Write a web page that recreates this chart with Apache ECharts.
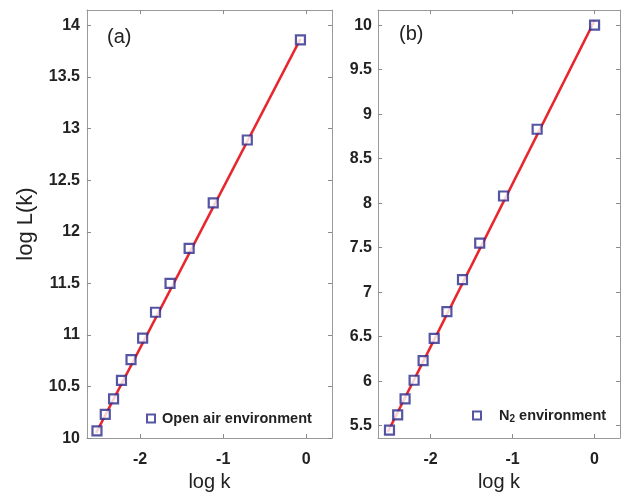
<!DOCTYPE html>
<html>
<head>
<meta charset="utf-8">
<script src="https://cdn.jsdelivr.net/npm/echarts@6/dist/echarts.min.js"></script>
<style>
  html, body { margin: 0; padding: 0; background: #fff; }
  #main { width: 622px; height: 497px; }
</style>
</head>
<body>
<div id="main"></div>
<script>
// panel (a): open air
var logkA = [-2.52, -2.42, -2.32, -2.225, -2.11, -1.97, -1.815, -1.64, -1.41, -1.12, -0.71, -0.07];
var logLA = [10.07, 10.23, 10.38, 10.56, 10.76, 10.97, 11.22, 11.50, 11.84, 12.28, 12.89, 13.86];
var fitA = [[-2.53, 10.05], [-0.07, 13.87]];

// panel (b): N2
var logkB = [-2.50, -2.40, -2.31, -2.20, -2.09, -1.955, -1.80, -1.61, -1.40, -1.11, -0.70, 0.00];
var logLB = [5.45, 5.62, 5.80, 6.01, 6.23, 6.48, 6.78, 7.14, 7.55, 8.08, 8.83, 10.00];
var fitB = [[-2.52, 5.43], [0.00, 10.05]];

var xTicks = [-2, -1, 0];
var yTicksA = [10, 10.5, 11, 11.5, 12, 12.5, 13, 13.5, 14];
var yTicksB = [5.5, 6, 6.5, 7, 7.5, 8, 8.5, 9, 9.5, 10];

var navy = '#2a2a8c';
var red = '#e8262d';
var font = 'Liberation Sans, Arial, sans-serif';

function pairs(xs, ys) {
    var out = [];
    for (var i = 0; i < xs.length; i++) out.push([xs[i], ys[i]]);
    return out;
}

function xAx(grid, show, ticks) {
    return {
        type: 'value', gridIndex: grid, min: -2.64, max: 0.31,
        position: show ? 'bottom' : 'top',
        splitLine: {show: false},
        axisLine: {onZero: false, lineStyle: {color: '#9a9a9a', width: 1}},
        axisTick: {inside: true, length: 4, customValues: ticks, lineStyle: {color: '#8a8a8a'}},
        axisLabel: {show: show, customValues: ticks, margin: 13, color: '#222',
            fontSize: 16, fontWeight: 'bold', fontFamily: font},
        name: show ? 'log k' : '', nameLocation: 'middle', nameGap: 32,
        nameTextStyle: {fontSize: 20, color: '#222', fontFamily: font}
    };
}

function yAx(grid, show, mn, mx, ticks, name) {
    return {
        type: 'value', gridIndex: grid, min: mn, max: mx,
        position: show ? 'left' : 'right',
        splitLine: {show: false},
        axisLine: {onZero: false, lineStyle: {color: '#9a9a9a', width: 1}},
        axisTick: {inside: true, length: 4, customValues: ticks, lineStyle: {color: '#8a8a8a'}},
        axisLabel: {show: show, customValues: ticks, margin: grid == 0 ? 7 : 6, color: '#222',
            fontSize: 16, fontWeight: 'bold', fontFamily: font},
        name: name || '', nameLocation: 'middle', nameGap: 50,
        nameTextStyle: {fontSize: 22, color: '#222', fontFamily: font}
    };
}

function pts(name, xs, ys, xi, yi) {
    return {
        name: name, type: 'scatter', xAxisIndex: xi, yAxisIndex: yi,
        data: pairs(xs, ys), symbol: 'rect', symbolSize: 9, z: 3,
        itemStyle: {color: '#fff', borderColor: navy, borderWidth: 2.2}
    };
}

function fit(data, xi, yi) {
    return {
        type: 'line', xAxisIndex: xi, yAxisIndex: yi, data: data,
        symbol: 'none', z: 2, silent: true,
        lineStyle: {color: red, width: 2.5}
    };
}

var myChart = echarts.init(document.getElementById('main'), null, {renderer: 'canvas'});
var option = {
    backgroundColor: '#fff',
    animation: false,
    grid: [
        {left: 87, right: 290, top: 10, bottom: 57},
        {left: 378, right: 2, top: 10, bottom: 58}
    ],
    xAxis: [xAx(0, true, xTicks), xAx(0, false, xTicks), xAx(1, true, xTicks), xAx(1, false, xTicks)],
    yAxis: [
        yAx(0, true, 10, 14.15, yTicksA, 'log L(k)'), yAx(0, false, 10, 14.15, yTicksA),
        yAx(1, true, 5.36, 10.17, yTicksB), yAx(1, false, 5.36, 10.17, yTicksB)
    ],
    legend: [
        {data: ['Open air environment'], left: 141, top: 406, itemWidth: 8, itemHeight: 8,
            icon: 'rect', itemStyle: {color: '#fff', borderColor: navy, borderWidth: 2},
            textStyle: {fontSize: 14.5, fontWeight: 'bold', color: '#222', fontFamily: font, padding: [0, 0, 0, 2]}},
        {data: ['N2 environment'], left: 467, top: 403, itemWidth: 8, itemHeight: 8,
            icon: 'rect', itemStyle: {color: '#fff', borderColor: navy, borderWidth: 2},
            formatter: function () { return '{n|N}{s|2}{n| environment}'; },
            textStyle: {fontSize: 14.5, fontWeight: 'bold', color: '#222', fontFamily: font, padding: [0, 0, 0, 13],
                rich: {
                    n: {fontSize: 14.5, fontWeight: 'bold', color: '#222', fontFamily: font},
                    s: {fontSize: 10, fontWeight: 'bold', color: '#222', fontFamily: font, padding: [8, 0, 0, 0]}
                }}}
    ],
    title: [
        {text: '(a)', left: 102, top: 22, textStyle: {fontSize: 20, fontWeight: 'normal', color: '#222', fontFamily: font}},
        {text: '(b)', left: 394, top: 19, textStyle: {fontSize: 20, fontWeight: 'normal', color: '#222', fontFamily: font}}
    ],
    series: [
        fit(fitA, 0, 0),
        pts('Open air environment', logkA, logLA, 0, 0),
        fit(fitB, 2, 2),
        pts('N2 environment', logkB, logLB, 2, 2)
    ]
};
myChart.setOption(option);
</script>
</body>
</html>
